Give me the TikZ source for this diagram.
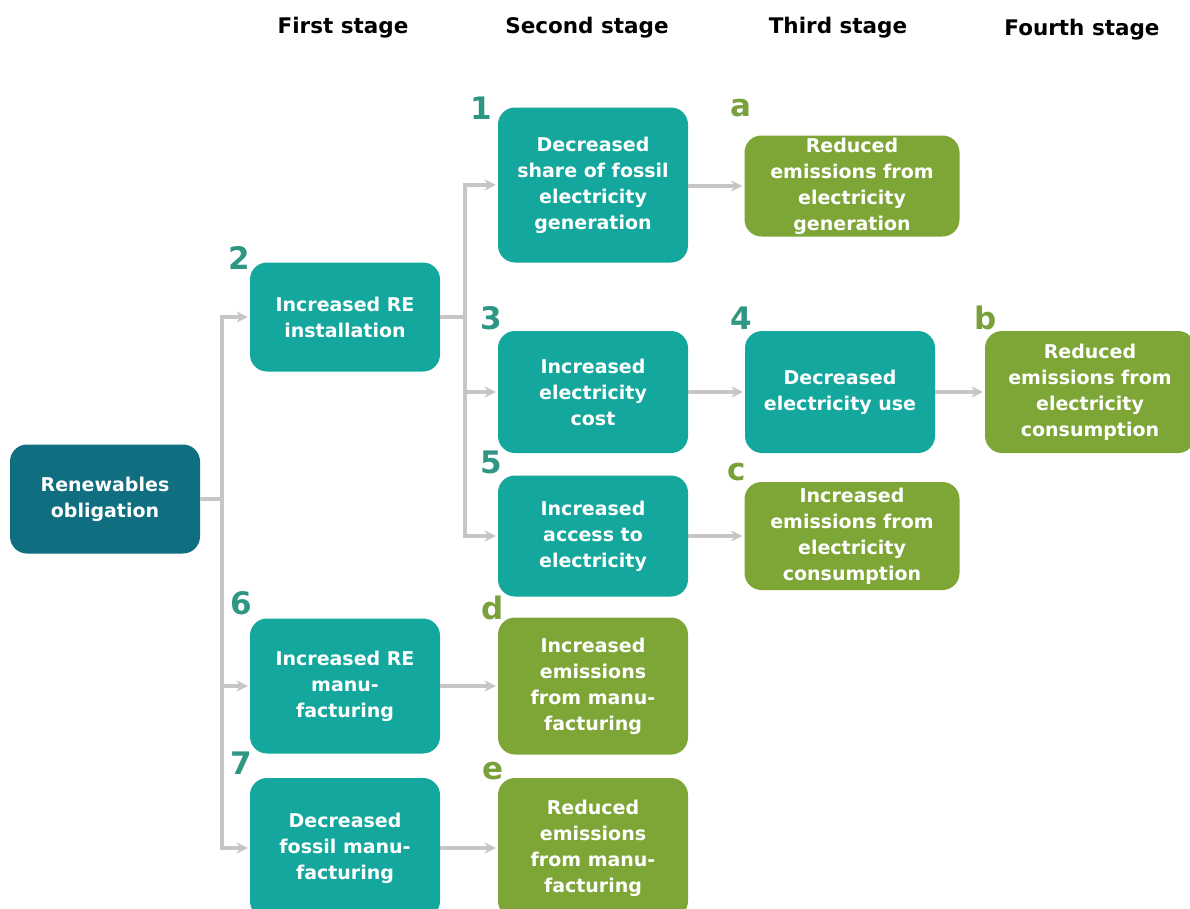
\documentclass[tikz,border=0pt]{standalone}
\usepackage{fontspec}
\setmainfont{DejaVu Sans}
\usetikzlibrary{arrows.meta}
\definecolor{tealbox}{HTML}{14A79D}
\definecolor{darkteal}{HTML}{0F6F80}
\definecolor{greenbox}{HTML}{7EA636}
\definecolor{numteal}{HTML}{2F9683}
\definecolor{numgreen}{HTML}{79A03A}
\definecolor{conn}{HTML}{C6C6C6}
\begin{document}
\begin{tikzpicture}[x=1pt,y=-1pt,
  basebox/.style={rounded corners=17pt, text=white, align=center, inner sep=0pt,
    font=\bfseries\fontsize{19}{26}\selectfont},
  tbox/.style={basebox, fill=tealbox},
  gbox/.style={basebox, fill=greenbox},
  dbox/.style={basebox, fill=darkteal},
  numlab/.style={font=\bfseries\fontsize{31}{32}\selectfont, text=numteal, inner sep=0pt},
  letlab/.style={font=\bfseries\fontsize{31}{32}\selectfont, text=numgreen, inner sep=0pt},
  header/.style={font=\bfseries\fontsize{21.5}{24}\selectfont, text=black, inner sep=0pt},
  line/.style={draw=conn, line width=3.4pt},
  arr/.style={line, -{Stealth[length=11pt,width=11pt,inset=3pt]}, shorten >=2pt}
]
\useasboundingbox (0,0) rectangle (1190,908);

% headers
\node[header] (h1) at (343,28) {First stage};
\node[header] (h2) at (587,28) {Second stage};
\node[header] (h3) at (838,28) {Third stage};
\node[header] (h4) at (1082,30) {Fourth stage};

% boxes
\node[dbox, minimum width=190pt, minimum height=109pt] (ro) at (105,499) {Renewables\\obligation};
\node[tbox, minimum width=190pt, minimum height=109pt] (b2) at (345,317) {Increased RE\\installation};
\node[tbox, minimum width=190pt, minimum height=155pt] (b1) at (593,185) {Decreased\\share of fossil\\electricity\\generation};
\node[gbox, minimum width=215pt, minimum height=101pt] (ba) at (852,186) {Reduced\\emissions from\\electricity\\generation};
\node[tbox, minimum width=190pt, minimum height=122pt] (b3) at (593,392) {Increased\\electricity\\cost};
\node[tbox, minimum width=190pt, minimum height=122pt] (b4) at (840,392) {Decreased\\electricity use};
\node[gbox, minimum width=210pt, minimum height=122pt] (bb) at (1090,392) {Reduced\\emissions from\\electricity\\consumption};
\node[tbox, minimum width=190pt, minimum height=121pt] (b5) at (593,536) {Increased\\access to\\electricity};
\node[gbox, minimum width=215pt, minimum height=108pt] (bc) at (852,536) {Increased\\emissions from\\electricity\\consumption};
\node[tbox, minimum width=190pt, minimum height=135pt] (b6) at (345,686) {Increased RE\\manu-\\facturing};
\node[gbox, minimum width=190pt, minimum height=137pt] (bd) at (593,686) {Increased\\emissions\\from manu-\\facturing};
\node[tbox, minimum width=190pt, minimum height=140pt] (b7) at (345,848) {Decreased\\fossil manu-\\facturing};
\node[gbox, minimum width=190pt, minimum height=140pt] (be) at (593,848) {Reduced\\emissions\\from manu-\\facturing};

% labels
\node[numlab] (l1) at (481,108) {1};
\node[letlab] (la) at (741,108) {a};
\node[numlab] (l2) at (239,258) {2};
\node[numlab] (l3) at (491,318) {3};
\node[numlab] (l4) at (741,318) {4};
\node[letlab] (lb) at (986,318) {b};
\node[numlab] (l5) at (491,462) {5};
\node[letlab] (lc) at (737,472) {c};
\node[numlab] (l6) at (241,603) {6};
\node[letlab] (ld) at (493,608) {d};
\node[numlab] (l7) at (241,763) {7};
\node[letlab] (le) at (493,771) {e};

% connectors
\coordinate (t1) at (222,499);
\coordinate (t2) at (465,317);
\draw[line] (ro.east) -- (t1);
\draw[arr] (t1) |- (b2.west);
\draw[arr] (t1) |- (b6.west);
\draw[arr] (t1) |- (b7.west);
\draw[line] (b2.east) -- (t2);
\draw[arr] (t2) |- (b1.west);
\draw[arr] (t2) |- (b3.west);
\draw[arr] (t2) |- (b5.west);
\draw[arr] (b1.east |- ba.west) -- (ba.west);
\draw[arr] (b3.east) -- (b4.west);
\draw[arr] (b4.east) -- (bb.west);
\draw[arr] (b5.east) -- (bc.west);
\draw[arr] (b6.east) -- (bd.west);
\draw[arr] (b7.east) -- (be.west);
\end{tikzpicture}
\end{document}
